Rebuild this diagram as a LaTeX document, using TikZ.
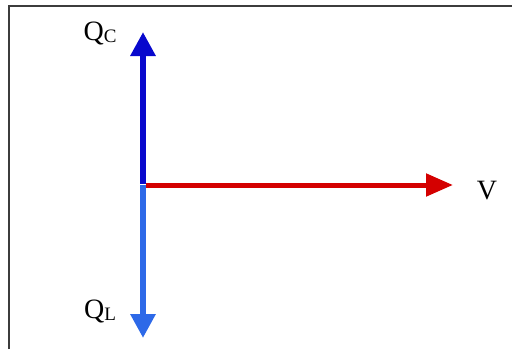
\documentclass[tikz,border=0pt]{standalone}
\usepackage{fontspec}
\setmainfont{Liberation Serif}
\usetikzlibrary{arrows.meta}

\definecolor{qcblue}{RGB}{8,8,205}
\definecolor{qlblue}{RGB}{45,105,232}
\definecolor{vred}{RGB}{212,0,0}
\definecolor{framegray}{RGB}{60,60,60}

\tikzset{
  phasor/.style={line width=6pt, -{Triangle[width=24pt,length=24pt]}},
  axislabel/.style={inner sep=0pt, font=\fontsize{28}{32}\selectfont},
}

%\sublabel{letter}{sub}
\newcommand*{\sublabel}[2]{#1{\fontsize{19}{19}\selectfont\raisebox{-2pt}{#2}}}

\begin{document}
\begin{tikzpicture}[x=1pt, y=-1pt]

\useasboundingbox (0,0) rectangle (512,349);

\def\ox{143}
\def\oy{185}

% frame (only left and top show)
\draw [framegray, line width=1.3pt] (9,349) -- (9,6) -- (512,6);

% origin and tips
\coordinate (o) at (\ox,\oy);
\coordinate (qc) at (\ox,32);
\coordinate (ql) at (\ox,338);
\coordinate (v) at (453,\oy);

% phasors
\draw [phasor, qlblue] (o) -- (ql);
\draw [phasor, vred, line width=5pt, -{Triangle[width=22pt,length=27pt]}] ([xshift=3pt]o) -- (v);
\draw [phasor, qcblue] ([yshift=1pt]o) -- (qc);

% labels
\node [axislabel] (qclabel) at (100,33) {\sublabel{Q}{C}};
\node [axislabel] (qllabel) at (100,311) {\sublabel{Q}{L}};
\node [axislabel] (vlabel) at (487,191) {V};

\end{tikzpicture}
\end{document}
